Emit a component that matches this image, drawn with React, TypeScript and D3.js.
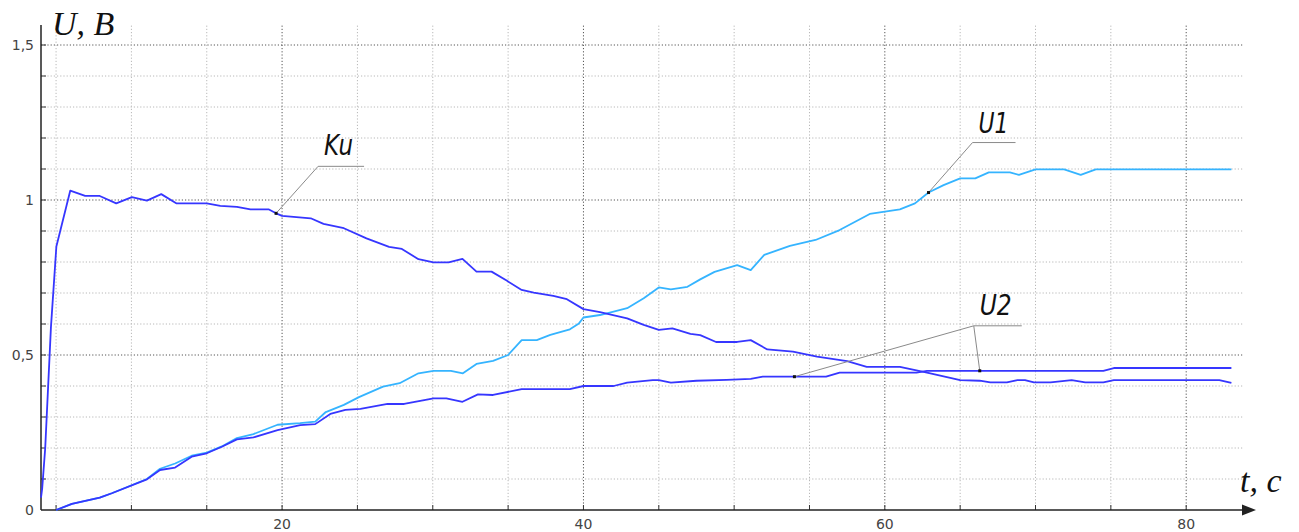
import React from 'react';
import * as d3 from 'd3';

// Ku
const kuT = [4, 4.08, 4.28, 4.66, 5.02, 5.94, 6.93, 7.9, 8.99, 10.03, 11.03, 11.98, 13.0, 15.0, 15.9, 17.0, 17.9, 19.1, 19.6, 20, 21.9, 22.75, 24.1, 25.6, 27.1, 27.95, 29.05, 30.05, 31.05, 31.97, 32.9, 33.9, 34.9, 35.9, 36.7, 38.0, 38.9, 40.0, 41.1, 42.9, 44.0, 45.0, 45.9, 47.1, 47.75, 48.8, 50.2, 51.1, 52.2, 53.9, 55.5, 57.5, 58.8, 61.0, 62.8, 65.0, 66.3, 67, 68.1, 68.8, 69.3, 69.9, 71, 72.4, 73.3, 74.5, 75.2, 82.2, 83]
const kuV = [0.04, 0.07, 0.2, 0.59, 0.85, 1.03, 1.013, 1.013, 0.989, 1.009, 0.998, 1.019, 0.989, 0.989, 0.981, 0.978, 0.97, 0.97, 0.957, 0.949, 0.941, 0.923, 0.909, 0.876, 0.849, 0.842, 0.809, 0.799, 0.799, 0.81, 0.769, 0.769, 0.74, 0.71, 0.701, 0.691, 0.68, 0.648, 0.638, 0.618, 0.597, 0.581, 0.586, 0.568, 0.564, 0.542, 0.542, 0.548, 0.518, 0.511, 0.495, 0.48, 0.462, 0.462, 0.443, 0.419, 0.417, 0.412, 0.412, 0.419, 0.419, 0.412, 0.412, 0.419, 0.412, 0.412, 0.419, 0.419, 0.41]

// U1
const u1T = [5.0, 6.05, 7.9, 8.7, 11.03, 11.9, 12.9, 14.0, 15.0, 16.0, 17.0, 18.1, 19.7, 21.2, 22.2, 22.9, 24.1, 25.1, 26.7, 27.8, 29.05, 30.05, 31.2, 32.0, 32.9, 34.0, 35.0, 35.9, 36.9, 37.8, 39.1, 39.7, 40.0, 41.1, 42.9, 44.0, 45.0, 45.8, 46.9, 47.75, 48.7, 50.2, 51.1, 52.0, 53.7, 55.4, 57.0, 59.0, 61.0, 62.0, 62.9, 63.9, 65.0, 66.0, 66.9, 68.3, 68.9, 70.0, 71.9, 73.0, 74.0, 83]
const u1V = [0, 0.02, 0.04, 0.054, 0.1, 0.133, 0.15, 0.175, 0.185, 0.205, 0.232, 0.245, 0.275, 0.28, 0.285, 0.316, 0.339, 0.364, 0.398, 0.409, 0.441, 0.449, 0.449, 0.441, 0.471, 0.481, 0.5, 0.548, 0.548, 0.565, 0.583, 0.602, 0.621, 0.629, 0.651, 0.683, 0.718, 0.712, 0.72, 0.744, 0.768, 0.79, 0.774, 0.823, 0.852, 0.871, 0.903, 0.955, 0.97, 0.989, 1.024, 1.048, 1.07, 1.07, 1.089, 1.089, 1.081, 1.099, 1.099, 1.081, 1.099, 1.099]

// U2
const u2T = [5.0, 6.05, 7.9, 8.7, 11.03, 11.9, 12.9, 14.0, 15.0, 16.0, 17.0, 18.1, 19.7, 21.2, 22.2, 23.2, 24.2, 25.2, 27.0, 28.1, 30.05, 30.9, 31.97, 33.0, 34.0, 35.9, 38.0, 39.1, 40.0, 42.0, 42.9, 44.6, 45.0, 45.8, 47.5, 49.5, 51.1, 51.9, 54.0, 56.1, 57.0, 62.1, 62.8, 74.5, 75.2, 83]
const u2V = [0, 0.02, 0.04, 0.054, 0.099, 0.129, 0.137, 0.172, 0.183, 0.204, 0.228, 0.234, 0.258, 0.274, 0.277, 0.31, 0.323, 0.326, 0.342, 0.342, 0.36, 0.36, 0.349, 0.373, 0.371, 0.39, 0.39, 0.39, 0.4, 0.4, 0.411, 0.419, 0.419, 0.411, 0.417, 0.42, 0.423, 0.43, 0.43, 0.43, 0.443, 0.443, 0.449, 0.449, 0.458, 0.458]

const xMajor = [20, 40, 60, 80]
const yMajor = [0.5, 1, 1.5]
const yLabels = ['0', '0,5', '1', '1,5']

const DARK = '#3636ff'
const LIGHT = '#35b4ff'

export default function App() {
    const width = 1299
    const height = 532

    // escalas
    const x = d3.scaleLinear().domain([4, 84.5]).range([41, 1254])
    const y = d3.scaleLinear().domain([0, 1.5]).range([510, 45])

    const mk = (ts: number[], vs: number[]) =>
        d3.line<number>().x(t => x(t)).y((_, i) => y(vs[i]))(ts) || ''

    const xGrid = d3.range(5, 81, 5)
    const yGrid = d3.range(1, 16).map(k => k / 10)

    const at = (ts: number[], vs: number[], t: number) => {
        const i = ts.findIndex(v => v >= t)
        const t0 = ts[i - 1], t1 = ts[i]
        return vs[i - 1] + (vs[i] - vs[i - 1]) * (t - t0) / (t1 - t0)
    }

    // anotações
    const kuP = [x(19.6), y(at(kuT, kuV, 19.6))]
    const u1P = [x(62.9), y(at(u1T, u1V, 62.9))]
    const u2a = [x(54), y(at(u2T, u2V, 54))]
    const u2b = [x(66.3), y(at(u2T, u2V, 66.3))]

    const labelFont = "'Liberation Sans Narrow', 'DejaVu Sans Condensed', sans-serif"

    const leader = (p: number[], dx: number, dy: number, len: number) => (
        <g>
            <polyline points={`${p[0]},${p[1]} ${p[0] + dx},${p[1] + dy} ${p[0] + dx + len},${p[1] + dy}`} fill='none' stroke='#8a8a8a' strokeWidth={1} />
            <rect x={p[0] - 1.5} y={p[1] - 1.5} width={3} height={3} fill='#111' />
        </g>
    )

    const u2Elbow = [u2b[0] - 6, u2b[1] - 45]

    return (
        <svg width={width} height={height} style={{ position: 'absolute', left: 0, top: 0, background: '#fff' }}>
            {/* grade */}
            {yGrid.map(v => (
                <line key={'h' + v} x1={41} x2={1243} y1={y(v)} y2={y(v)}
                    stroke={yMajor.some(m => Math.abs(m - v) < 1e-6) ? '#555' : '#b8b8b8'}
                    strokeWidth={1} strokeDasharray='1.2 2' />
            ))}
            {xGrid.map(t => (
                <line key={'v' + t} x1={x(t)} x2={x(t)} y1={510} y2={25}
                    stroke={xMajor.includes(t) ? '#555' : '#b8b8b8'}
                    strokeWidth={1} strokeDasharray='1.2 2' />
            ))}

            {/* ticks */}
            {yGrid.map(v => (
                <line key={'yt' + v} x1={41} x2={46} y1={y(v)} y2={y(v)} stroke='#333' strokeWidth={1} />
            ))}
            {xGrid.map(t => (
                <line key={'xt' + t} x1={x(t)} x2={x(t)} y1={510} y2={505} stroke='#333' strokeWidth={1} />
            ))}

            {/* eixos */}
            <line x1={41} x2={41} y1={510} y2={25} stroke='#222' strokeWidth={1.5} />
            <line x1={41} x2={1244} y1={510} y2={510} stroke='#222' strokeWidth={1.5} />
            <path d='M1256,510 L1242,504.5 L1242,515.5 Z' fill='#222' />

            {/* rótulos */}
            {[0, 0.5, 1, 1.5].map((v, i) => (
                <text key={'yl' + v} x={34} y={y(v)} dy='.35em' textAnchor='end'
                    fontFamily="'DejaVu Sans', sans-serif" fontSize={14} fill='#444'>{yLabels[i]}</text>
            ))}
            {xMajor.map(t => (
                <text key={'xl' + t} x={x(t)} y={529} textAnchor='middle'
                    fontFamily="'DejaVu Sans', sans-serif" fontSize={14} fill='#444'>{t}</text>
            ))}
            <text x={52} y={35} fontFamily="'Liberation Serif', serif" fontStyle='italic' fontSize={34} fill='#111'>U, B</text>
            <text x={1240} y={492} fontFamily="'Liberation Serif', serif" fontStyle='italic' fontSize={34} fill='#111'>t, c</text>

            {/* curvas */}
            <path d={mk(u1T, u1V)} fill='none' stroke={LIGHT} strokeWidth={1.8} strokeLinejoin='round' />
            <path d={mk(u2T, u2V)} fill='none' stroke={DARK} strokeWidth={1.8} strokeLinejoin='round' />
            <path d={mk(kuT, kuV)} fill='none' stroke={DARK} strokeWidth={1.8} strokeLinejoin='round' />

            {/* anotações */}
            {leader(kuP, 42, -47, 46)}
            <text x={kuP[0] + 48} y={kuP[1] - 58} fontFamily={labelFont} fontStyle='italic' fontWeight={300} fontSize={29}
                textLength={29} lengthAdjust='spacingAndGlyphs' fill='#111'>Ku</text>

            {leader(u1P, 44, -50, 43)}
            <text x={u1P[0] + 50} y={u1P[1] - 60} fontFamily={labelFont} fontStyle='italic' fontWeight={300} fontSize={29}
                textLength={30} lengthAdjust='spacingAndGlyphs' fill='#111'>U1</text>

            <polyline points={`${u2a[0]},${u2a[1]} ${u2Elbow[0]},${u2Elbow[1]} ${u2b[0]},${u2b[1]}`} fill='none' stroke='#8a8a8a' strokeWidth={1} />
            <line x1={u2Elbow[0]} x2={u2Elbow[0] + 48} y1={u2Elbow[1]} y2={u2Elbow[1]} stroke='#8a8a8a' strokeWidth={1} />
            <rect x={u2a[0] - 1.5} y={u2a[1] - 1.5} width={3} height={3} fill='#111' />
            <rect x={u2b[0] - 1.5} y={u2b[1] - 1.5} width={3} height={3} fill='#111' />
            <text x={u2Elbow[0] + 6} y={u2Elbow[1] - 11} fontFamily={labelFont} fontStyle='italic' fontWeight={300} fontSize={29}
                textLength={32} lengthAdjust='spacingAndGlyphs' fill='#111'>U2</text>
        </svg>
    )
}
